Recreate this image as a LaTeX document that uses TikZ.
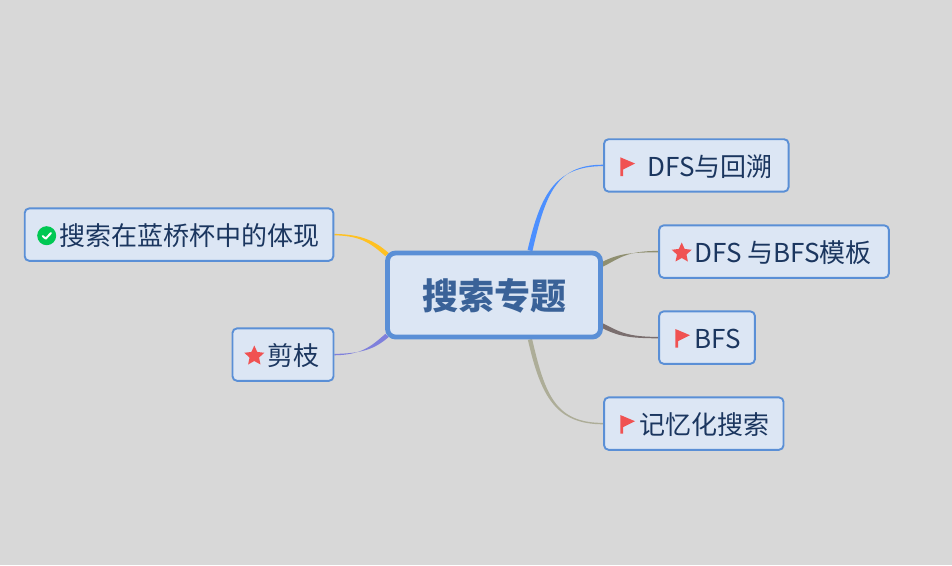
\documentclass[tikz,border=0pt]{standalone}
\usepackage{fontspec}
\setmainfont{Noto Sans CJK SC}
\usetikzlibrary{calc,shapes.geometric}
\pgfdeclarelayer{paper}
\pgfdeclarelayer{conn}
\pgfsetlayers{paper,conn,main}
\definecolor{bgc}{HTML}{D8D8D8}
\definecolor{boxfill}{HTML}{DCE6F4}
\definecolor{boxline}{HTML}{5A8FD6}
\definecolor{txt}{HTML}{1B365F}
\definecolor{roottxt}{HTML}{3A6298}
\definecolor{red1}{HTML}{F05252}
\definecolor{green1}{HTML}{00C853}
\definecolor{cyellow}{HTML}{FFC122}
\definecolor{cpurple}{HTML}{7F80DC}
\definecolor{cblue}{HTML}{4C8FFF}
\definecolor{colive}{HTML}{8F8F70}
\definecolor{cbrown}{HTML}{7A6E6E}
\definecolor{ckhaki}{HTML}{ADAD98}
\tikzset{
  x=1pt,y=-1pt,
  childbox/.style={draw=boxline,fill=boxfill,line width=1.9pt,rounded corners=4.5pt,inner sep=0pt,
    text=txt,font=\fontsize{26}{30}\selectfont,text height=24pt,text depth=2pt},
  rootbox/.style={draw=boxline,fill=boxfill,line width=4.8pt,rounded corners=8pt,inner sep=0pt,
    text=roottxt,font=\fontsize{36}{42}\selectfont\bfseries,text height=32pt,text depth=4pt},
  staricon/.style={star,star points=5,star point ratio=2.1,fill=red1,draw=none,inner sep=0pt,minimum size=21pt,outer sep=0pt},
  checkicon/.style={circle,fill=green1,draw=none,inner sep=0pt,minimum size=19pt,outer sep=0pt},
  flagmark/.style={inner sep=0pt,outer sep=0pt,minimum size=0pt},
}
% tapered connector: colour, thin end, c1, c2, thick end, half-width vector at thick end
\newcommand{\taperconn}[6]{%
  \coordinate (k1) at #3;
  \coordinate (k2) at #4;
  \fill[#1] ($(#2)+(0,-0.7)$) .. controls ($(k1)+(0,-0.7)$) and ($(k2)+(#6)$) .. ($(#5)+(#6)$)
    -- ($(#5)-(#6)$) .. controls ($(k2)-(#6)$) and ($(k1)+(0,0.7)$) .. ($(#2)+(0,0.7)$) -- cycle;}
% flag icon with the top-left corner of its pole at the given node
\newcommand{\flagicon}[1]{%
  \fill[red1] (#1) -- ++(14.7,6.2) -- ++(-12,6) -- ++(0,6.5) -- ++(-2.7,0) -- cycle;}
\begin{document}
\begin{tikzpicture}
\begin{pgfonlayer}{paper}
\fill[bgc] (0,0) rectangle (952,565);
\end{pgfonlayer}
\useasboundingbox (0,0) rectangle (952,565);

% nodes
\node[rootbox,minimum width=213pt,minimum height=84pt] (root) at (494,295) {搜索专题};
\node[childbox,minimum width=308.6pt,minimum height=52.4pt] (a) at (179,234.6) {\makebox[308.6pt][l]{\hspace*{35pt}搜索在蓝桥杯中的体现}};
\node[childbox,minimum width=101pt,minimum height=52.4pt] (b) at (283,354.6) {\makebox[101pt][l]{\hspace*{34.5pt}剪枝}};
\node[childbox,minimum width=184.5pt,minimum height=52.4pt] (c) at (696.3,165.4) {\makebox[184.5pt][l]{\hspace*{43.5pt}DFS与回溯}};
\node[childbox,minimum width=229.8pt,minimum height=52.4pt] (d) at (774,251.6) {\makebox[229.8pt][l]{\hspace*{35.5pt}DFS 与BFS模板}};
\node[childbox,minimum width=95.8pt,minimum height=52.4pt] (e) at (707,337.6) {\makebox[95.8pt][l]{\hspace*{35.5pt}BFS}};
\node[childbox,minimum width=179.4pt,minimum height=52.4pt] (f) at (693.8,423.6) {\makebox[179.4pt][l]{\hspace*{35pt}记忆化搜索}};

% icons
\node[checkicon] (ia) at (46.7,235.7) {};
\draw[white,line width=2pt,line cap=round,line join=round] ($(ia)+(-4,0.3)$) -- ($(ia)+(-1,3)$) -- ($(ia)+(4.2,-2.6)$);
\node[staricon] (ib) at (254.3,356) {};
\node[staricon] (id) at (681.7,253) {};
\node[flagmark] (ic) at (620.3,157.3) {};
\node[flagmark] (ie) at (675.3,329) {};
\node[flagmark] (if) at (620.3,415) {};
\flagicon{ic}
\flagicon{ie}
\flagicon{if}

% root-side connector ends
\coordinate (ra) at ($(root.north west)+(2,4)$);
\coordinate (rb) at ($(root.south west)+(2,-4)$);
\coordinate (rc) at ($(root.north)+(36,0)$);
\coordinate (rd) at ($(root.north east)+(-1,14)$);
\coordinate (re) at ($(root.south east)+(-1,-14)$);
\coordinate (rf) at ($(root.south)+(36,0)$);

% connectors
\begin{pgfonlayer}{conn}
\taperconn{cyellow}{a.east}{($(a.east)+(28,0.5)$)}{($(ra)+(-14,-12)$)}{ra}{1.6,-1.6}
\taperconn{cpurple}{b.east}{($(b.east)+(28,-0.5)$)}{($(rb)+(-14,12)$)}{rb}{1.6,1.6}
\taperconn{cblue}{c.west}{($(c.west)+(-47,0)$)}{($(rc)+(13,-57)$)}{rc}{2.4,0.6}
\taperconn{colive}{d.west}{($(d.west)+(-32,0)$)}{($(rd)+(16,-8)$)}{rd}{1.1,2}
\taperconn{cbrown}{e.west}{($(e.west)+(-32,0)$)}{($(re)+(16,8)$)}{re}{1.1,-2}
\taperconn{ckhaki}{f.west}{($(f.west)+(-47,0)$)}{($(rf)+(13,57)$)}{rf}{2.1,-0.5}
\end{pgfonlayer}
\end{tikzpicture}
\end{document}
